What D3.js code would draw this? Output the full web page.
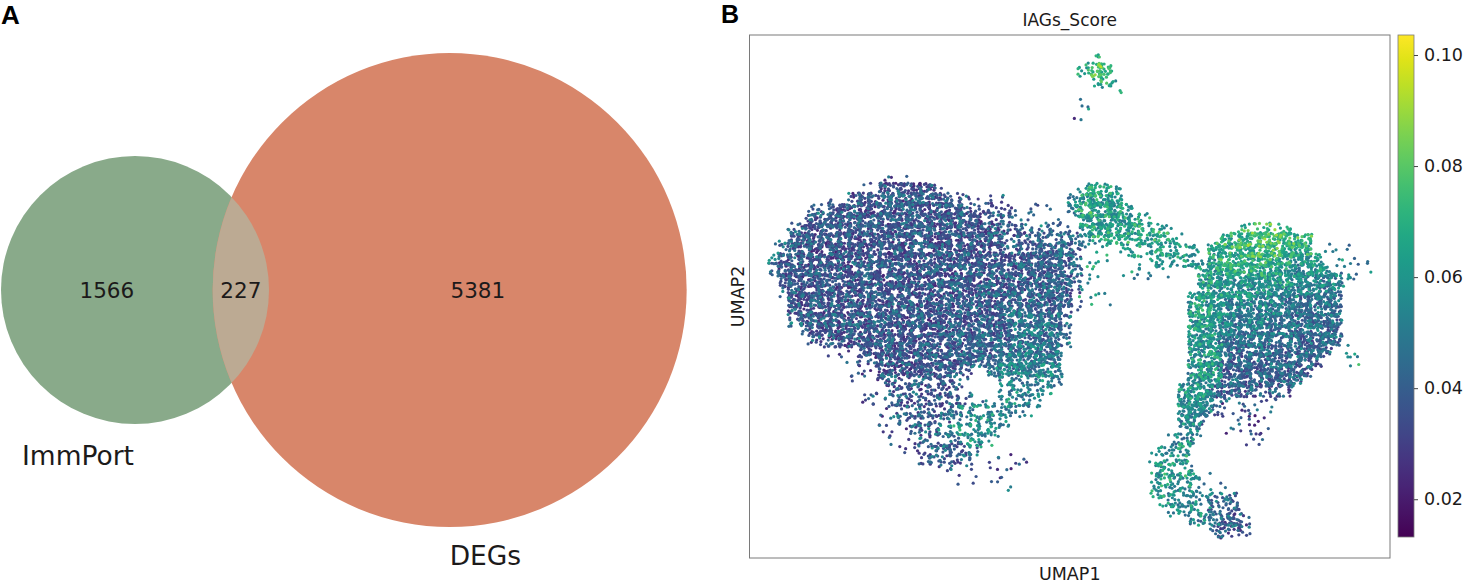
<!DOCTYPE html>
<html>
<head>
<meta charset="utf-8">
<script src="https://cdn.jsdelivr.net/npm/d3@7"></script>
<style>
body{margin:0;background:#fff;}
text{font-family:"DejaVu Sans",sans-serif;fill:#1c1a1a;}
.panel{font-family:"Liberation Sans",Arial,sans-serif;font-weight:bold;fill:#000;}
</style>
</head>
<body>
<svg id="fig" width="1473" height="584"></svg>
<script>
// ---- panel A : venn counts
var vennSets = ["ImmPort", "DEGs"];
var vennOnly = [1566, 5381];
var vennBoth = 227;
var vennColors = ["#89aa8a", "#d8866a", "#bcaa93"];

// ---- panel B : UMAP read off the picture as binned cells
// each cell run: [row, firstCol, lastCol, density(1 sparse,2 medium,3 dense), IAGs score]
var island = [
 [0,32,33,1,0.066],
 [1,31,31,2,0.06],[1,32,33,3,0.072],
 [2,32,33,2,0.064],[2,34,34,1,0.058],
 [3,33,33,1,0.058],[3,35,35,1,0.072],
 [4,31,31,1,0.05],
 [5,31,31,1,0.045],
 [6,30,30,1,0.032]
];
var leftCluster = [
 [12,11,13,1,0.032],
 [13,9,10,1,0.035],[13,11,15,3,0.031],[13,16,16,2,0.032],
 [14,6,7,1,0.038],[14,8,17,3,0.031],[14,18,19,2,0.032],[14,21,23,1,0.035],
 [15,4,5,2,0.037],[15,6,18,3,0.031],[15,19,21,2,0.032],[15,22,23,2,0.034],[15,24,27,1,0.04],
 [16,3,3,1,0.038],[16,4,20,3,0.031],[16,21,24,2,0.032],[16,25,28,1,0.042],
 [17,2,2,2,0.039],[17,3,22,3,0.031],[17,23,25,2,0.032],[17,26,29,2,0.038],
 [18,1,1,2,0.04],[18,2,22,3,0.031],[18,23,26,2,0.033],[18,27,30,2,0.037],
 [19,0,0,1,0.039],[19,1,1,2,0.039],[19,2,21,3,0.03],[19,22,25,2,0.032],[19,26,29,3,0.036],[19,30,30,2,0.037],
 [20,0,0,2,0.04],[20,1,21,3,0.031],[20,22,24,3,0.031],[20,25,29,3,0.034],[20,30,30,2,0.037],
 [21,0,0,2,0.04],[21,1,21,3,0.031],[21,22,29,3,0.033],[21,30,30,2,0.037],
 [22,0,0,1,0.039],[22,1,20,3,0.031],[22,21,29,3,0.033],[22,30,30,2,0.037],
 [23,1,1,2,0.039],[23,2,20,3,0.031],[23,21,29,3,0.034],[23,30,30,1,0.037],
 [24,1,1,1,0.039],[24,2,19,3,0.031],[24,20,23,3,0.032],[24,24,29,3,0.036],[24,30,30,1,0.04],
 [25,2,18,3,0.031],[25,19,23,3,0.032],[25,24,29,3,0.037],[25,30,30,1,0.04],
 [26,2,2,2,0.039],[26,3,18,3,0.031],[26,19,23,3,0.033],[26,24,28,3,0.038],[26,29,29,2,0.04],
 [27,3,3,2,0.037],[27,4,18,3,0.031],[27,19,23,3,0.033],[27,24,28,3,0.039],[27,29,29,2,0.04],
 [28,4,5,2,0.034],[28,6,18,3,0.031],[28,19,23,3,0.034],[28,24,28,3,0.04],[28,29,29,2,0.04],
 [29,6,8,1,0.032],[29,9,18,3,0.031],[29,19,23,3,0.035],[29,24,28,3,0.041],[29,29,29,1,0.04],
 [30,7,9,1,0.031],[30,10,18,3,0.031],[30,19,22,3,0.037],[30,23,28,3,0.043],
 [31,8,10,1,0.031],[31,11,18,3,0.031],[31,19,19,2,0.034],[31,22,28,3,0.045],
 [32,8,10,1,0.031],[32,11,18,2,0.032],[32,19,19,1,0.037],[32,23,28,2,0.046],
 [33,9,11,1,0.031],[33,12,18,2,0.032],[33,19,19,1,0.038],[33,23,27,2,0.048],
 [34,9,11,1,0.032],[34,12,19,2,0.034],[34,20,22,1,0.043],[34,23,26,2,0.05],
 [35,10,11,1,0.032],[35,12,18,2,0.034],[35,19,25,2,0.048],
 [36,10,12,1,0.032],[36,13,17,2,0.035],[36,18,23,2,0.05],
 [37,11,13,1,0.032],[37,14,16,2,0.035],[37,17,22,2,0.051],
 [38,12,14,1,0.032],[38,15,18,2,0.038],[38,19,21,2,0.052],
 [39,13,15,1,0.033],[39,16,20,2,0.038],
 [40,15,19,2,0.035],[40,22,25,1,0.029],
 [41,17,19,1,0.032],[41,22,23,1,0.029],
 [42,19,20,1,0.032],[42,22,23,1,0.031],
 [43,23,23,1,0.043]
];
var bridge = [
 [12,33,33,1,0.058],
 [13,31,31,2,0.053],[13,32,32,3,0.064],[13,33,34,2,0.056],
 [14,30,30,2,0.048],[14,31,34,3,0.055],
 [15,30,30,3,0.048],[15,31,31,3,0.062],[15,32,35,3,0.054],
 [16,31,35,3,0.055],[16,36,37,2,0.06],
 [17,31,31,2,0.048],[17,32,36,3,0.057],[17,37,39,2,0.06],
 [18,31,32,2,0.053],[18,33,35,2,0.06],[18,36,40,2,0.06],
 [19,32,33,1,0.058],[19,35,42,2,0.058],
 [20,31,33,1,0.06],[20,38,42,2,0.056],
 [21,31,32,1,0.06],[21,35,39,1,0.056],[21,42,42,1,0.056],
 [22,31,32,1,0.058],[22,36,37,1,0.048],
 [23,31,32,1,0.06],
 [24,31,31,1,0.058],[24,33,33,1,0.048]
];
var rightCluster = [
 [17,47,51,2,0.068],
 [18,45,47,3,0.064],[18,48,50,3,0.07],[18,51,53,3,0.065],
 [19,44,46,3,0.06],[19,47,51,3,0.066],[19,52,53,3,0.06],[19,55,57,1,0.048],
 [20,44,44,3,0.054],[20,45,50,3,0.062],[20,51,54,3,0.056],[20,56,59,1,0.048],
 [21,43,44,3,0.055],[21,45,51,3,0.058],[21,52,55,3,0.05],[21,57,59,1,0.046],
 [22,43,45,3,0.055],[22,46,52,3,0.053],[22,53,56,3,0.045],[22,57,58,1,0.043],
 [23,43,45,3,0.055],[23,46,52,3,0.05],[23,53,56,3,0.041],
 [24,42,44,3,0.054],[24,45,50,3,0.046],[24,51,56,3,0.04],
 [25,42,44,3,0.054],[25,45,50,3,0.045],[25,51,56,3,0.039],
 [26,42,44,3,0.053],[26,45,49,3,0.044],[26,50,56,3,0.038],
 [27,42,44,3,0.053],[27,45,49,3,0.042],[27,50,56,3,0.037],
 [28,42,44,3,0.052],[28,45,49,3,0.04],[28,50,56,3,0.036],
 [29,42,44,3,0.052],[29,45,55,3,0.037],[29,57,58,1,0.053],
 [30,42,44,3,0.052],[30,45,54,3,0.036],[30,57,58,1,0.056],
 [31,42,44,3,0.052],[31,45,53,3,0.035],
 [32,42,44,3,0.052],[32,45,52,3,0.035],
 [33,41,43,3,0.052],[33,44,47,3,0.034],[33,48,51,2,0.031],
 [34,41,43,3,0.052],[34,44,45,2,0.034],[34,46,50,1,0.029],
 [35,41,43,3,0.05],[35,44,44,2,0.036],[35,45,49,1,0.029],
 [36,41,42,3,0.048],[36,43,43,2,0.038],[36,45,49,1,0.029],
 [37,41,42,2,0.048],[37,45,49,1,0.029],
 [38,40,42,2,0.048],[38,47,49,1,0.029],
 [39,39,41,2,0.052],
 [40,38,41,2,0.055],
 [41,38,41,2,0.056],[41,42,42,1,0.048],
 [42,38,42,2,0.055],[42,43,43,1,0.048],
 [43,38,42,2,0.053],[43,44,45,1,0.043],
 [44,39,42,2,0.051],[44,43,46,2,0.04],
 [45,40,43,2,0.05],[45,44,46,2,0.038],
 [46,42,44,2,0.046],[46,45,46,3,0.034],[46,47,47,1,0.029],
 [47,44,47,2,0.031],
 [48,44,45,1,0.029]
];
// how much the score wanders from dot to dot inside a cell
var speckle = [0,-0.006,0.008,-0.003,0.015,-0.008,0.003,0.022,-0.004,0.001,0.011,-0.007,0.005,-0.002,0.017,-0.005,0.006,0.002];
var pointsPerCell = [0, 2, 9, 22];
var cbTicks = [0.02, 0.04, 0.06, 0.08, 0.10];
var scoreRange = [0.0132, 0.1036];

var svg = d3.select("#fig");

// ================= panel A
svg.append("text").attr("class","panel").text("A").attr("x",1).attr("y",24).style("font-size","26px");

var rScale = d3.scaleSqrt().domain([0, vennOnly[1] + vennBoth]).range([0, 237]);
var r1 = rScale(vennOnly[0] + vennBoth), r2 = rScale(vennOnly[1] + vennBoth);
// lens area, used to find how far apart the circles sit
function lens(a, b, d){
    var p = a*a*Math.acos((d*d + a*a - b*b)/(2*d*a));
    var q = b*b*Math.acos((d*d + b*b - a*a)/(2*d*b));
    var s = 0.5*Math.sqrt((-d+a+b)*(d+a-b)*(d-a+b)*(d+a+b));
    return p + q - s;}
var target = Math.PI*r2*r2*vennBoth/(vennOnly[1] + vennBoth);
var lo = Math.abs(r2 - r1) + 0.01, hi = r1 + r2 - 0.01;
for(var i = 0; i < 60; i++){
    var mid = (lo + hi)/2;
    if(lens(r1, r2, mid) > target){lo = mid;}else{hi = mid;}}
var dist = (lo + hi)/2;
var cy = 290, cx1 = 1 + r1, cx2 = cx1 + dist;

var defs = svg.append("defs");
defs.append("clipPath").attr("id","clipA").append("circle").attr("cx",cx1).attr("cy",cy).attr("r",r1);
var venn = svg.append("g");
venn.selectAll("circle.set").data([[cx1,r1,vennColors[0]],[cx2,r2,vennColors[1]]]).join("circle")
    .attr("class","set").attr("cx",d => d[0]).attr("cy",cy).attr("r",d => d[1]).attr("fill",d => d[2]);
venn.append("circle").attr("cx",cx2).attr("cy",cy).attr("r",r2).attr("fill",vennColors[2]).attr("clip-path","url(#clipA)");

var labelX = [(cx1 - r1 + cx2 - r2)/2, (cx2 - r2 + cx1 + r1)/2, (cx1 + r1 + cx2 + r2)/2];
var counts = [vennOnly[0], vennBoth, vennOnly[1]];
venn.selectAll("text.count").data(counts).join("text").attr("class","count")
    .text(d => d).attr("x",(d,i) => labelX[i]).attr("y",cy + 8)
    .attr("text-anchor","middle").style("font-size","21.5px");
venn.append("text").text(vennSets[0]).attr("x",cx1 - 1).attr("y",cy + r1 + 41)
    .attr("text-anchor","end").style("font-size","26.5px");
venn.append("text").text(vennSets[1]).attr("x",cx2).attr("y",cy + r2 + 38)
    .attr("text-anchor","start").style("font-size","26.5px");

// ================= panel B
svg.append("text").attr("class","panel").text("B").attr("x",721).attr("y",23).style("font-size","25px");

var frame = {x0: 749.5, x1: 1390, y0: 35, y1: 558};
var xGrid = d3.scaleLinear().domain([0, 60]).range([770, 1370]);
var yGrid = d3.scaleLinear().domain([0, 49]).range([55, 545]);
var color = d3.scaleSequential(d3.interpolateViridis).domain(scoreRange);

// fixed scatter of dots inside a cell (integer hash, same every run)
function hash(n){
    n = Math.imul(n ^ (n >>> 16), 0x45d9f3b);
    n = Math.imul(n ^ (n >>> 16), 0x45d9f3b);
    n = n ^ (n >>> 16);
    return (n >>> 0)/4294967296;}

// expand the cell runs into dots, spread a little past the cell so the bins don't show
var points = [];
[island, leftCluster, bridge, rightCluster].forEach(function(group){
    group.forEach(function(run){
        for(var c = run[1]; c <= run[2]; c++){
            var n = pointsPerCell[run[3]];
            var id = run[0]*100 + c;
            for(var k = 0; k < n; k++){
                var key = id*97 + k*3;
                var u = hash(key + 1);
                var v = hash(key + 2);
                var j = Math.floor(hash(key + 3)*speckle.length);
                var s = run[4] + speckle[j];
                s = Math.max(scoreRange[0], Math.min(scoreRange[1], s));
                points.push({gx: c - 0.2 + 1.4*u, gy: run[0] - 0.2 + 1.4*v, score: s});}}});});
// higher scores drawn on top, like scanpy does
points.sort((a,b) => a.score - b.score);

svg.append("g").selectAll("circle").data(points).join("circle")
    .attr("cx", d => xGrid(d.gx)).attr("cy", d => yGrid(d.gy))
    .attr("r", 1.6).attr("fill", d => color(d.score));

svg.append("rect").attr("x",frame.x0).attr("y",frame.y0)
    .attr("width",frame.x1 - frame.x0).attr("height",frame.y1 - frame.y0)
    .attr("fill","none").attr("stroke","#7a7a7a").attr("stroke-width",1);

svg.append("text").text("IAGs_Score").attr("x",(frame.x0 + frame.x1)/2).attr("y",26)
    .attr("text-anchor","middle").style("font-size","17px");
svg.append("text").text("UMAP1").attr("x",(frame.x0 + frame.x1)/2).attr("y",580)
    .attr("text-anchor","middle").style("font-size","17.5px");
svg.append("text").text("UMAP2").attr("transform","translate(744," + ((frame.y0 + frame.y1)/2) + ") rotate(-90)")
    .attr("text-anchor","middle").style("font-size","17.5px");

// colorbar
var cb = {x: 1398, w: 16, y0: 35, y1: 537};
var cbScale = d3.scaleLinear().domain(scoreRange).range([cb.y1, cb.y0]);
var grad = defs.append("linearGradient").attr("id","viridisBar").attr("x1",0).attr("y1",1).attr("x2",0).attr("y2",0);
d3.range(0, 1.0001, 0.05).forEach(function(t){
    grad.append("stop").attr("offset",t).attr("stop-color",d3.interpolateViridis(t));});
svg.append("rect").attr("x",cb.x).attr("y",cb.y0).attr("width",cb.w).attr("height",cb.y1 - cb.y0)
    .attr("fill","url(#viridisBar)").attr("stroke","#7a7a7a").attr("stroke-width",0.8);
var cbAxis = svg.append("g").attr("transform","translate(" + (cb.x + cb.w) + ",0)")
    .call(d3.axisRight(cbScale).tickValues(cbTicks).tickFormat(d3.format(".2f")).tickSize(4).tickPadding(6));
cbAxis.select(".domain").remove();
cbAxis.selectAll("line").attr("stroke","#444");
cbAxis.selectAll("text").style("font-family","DejaVu Sans, sans-serif").style("font-size","17.5px").attr("fill","#1c1a1a");
</script>
</body>
</html>
